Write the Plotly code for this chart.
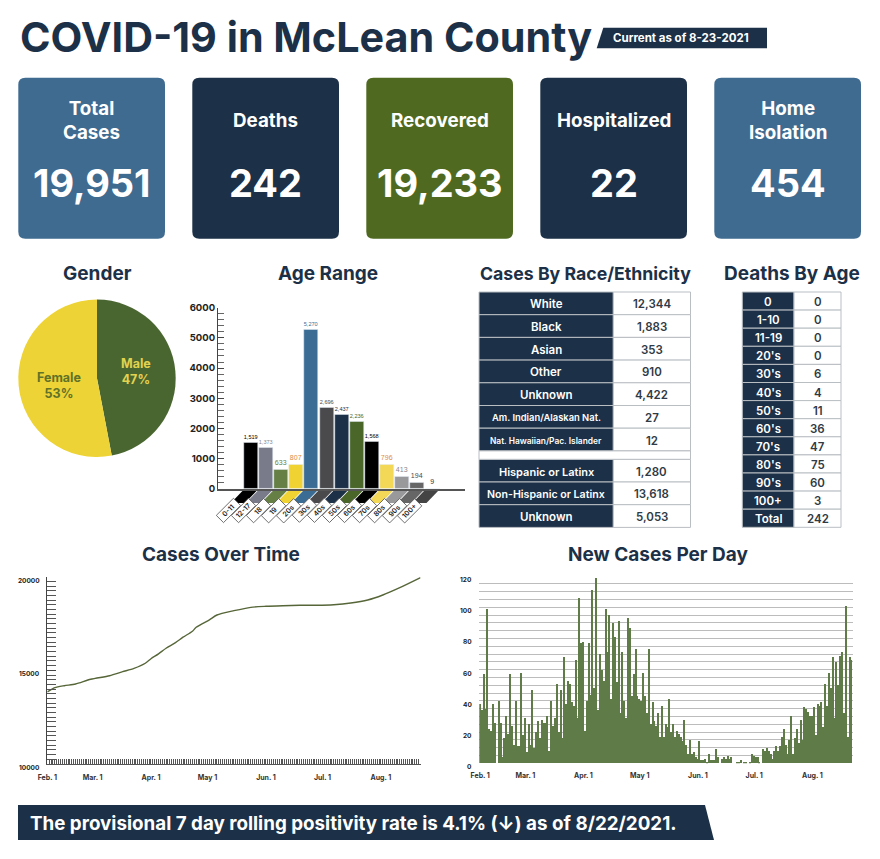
import pandas as pd
import plotly.graph_objects as go

NAVY = "#1c3047"; BLUE = "#3f6b90"; GREEN = "#4f6a20"; DARKG = "#4a6630"; YEL = "#edd335"
FONT = "Inter"

card_labels = ["Total<br>Cases", "Deaths", "Recovered", "Hospitalized", "Home<br>Isolation"]
card_values = ["19,951", "242", "19,233", "22", "454"]
card_colors = [BLUE, NAVY, GREEN, NAVY, BLUE]

gender_labels = ["Male", "Female"]
gender_values = [47, 53]

age_cats = ["0-11", "12-17", "18", "19", "20s", "30s", "40s", "50s", "60s", "70s", "80s", "90s", "100+"]
age_vals = [1519, 1373, 633, 807, 5270, 2696, 2437, 2236, 1568, 796, 413, 194, 9]
age_colors = ["#000000", "#797b8a", "#657f44", "#f0d332", "#3b6d94", "#4a4a4c", "#1c3047", "#4a6628",
              "#000000", "#f2d856", "#99999c", "#666666", "#444444"]
age_text_colors = ["#000000", "#85878f", "#657f44", "#e08a3c", "#3b6d94", "#4a4a4c", "#1c3047", "#4a6628",
                   "#000000", "#e08a3c", "#85878f", "#4a4a4c", "#333333"]

race_labels = ["White", "Black", "Asian", "Other", "Unknown", "Am. Indian/Alaskan Nat.", "Nat. Hawaiian/Pac. Islander"]
race_values = ["12,344", "1,883", "353", "910", "4,422", "27", "12"]
race_sizes = [11.5, 11.5, 11.5, 11.5, 11.5, 9.4, 8.4]
eth_labels = ["Hispanic or Latinx", "Non-Hispanic or Latinx", "Unknown"]
eth_values = ["1,280", "13,618", "5,053"]
eth_sizes = [11, 10.6, 11.5]
death_labels = ["0", "1-10", "11-19", "20's", "30's", "40's", "50's", "60's", "70's", "80's", "90's", "100+", "Total"]
death_values = ["0", "0", "0", "0", "6", "4", "11", "36", "47", "75", "60", "3", "242"]

cum_dates = ["2021-02-05", "2021-02-09", "2021-02-14", "2021-02-20", "2021-02-28", "2021-03-10", "2021-03-17",
             "2021-03-23", "2021-03-29", "2021-04-01", "2021-04-05", "2021-04-09", "2021-04-14", "2021-04-18",
             "2021-04-23", "2021-04-25", "2021-05-02", "2021-05-06", "2021-05-15", "2021-05-24", "2021-06-01",
             "2021-06-10", "2021-06-19", "2021-06-28", "2021-07-07", "2021-07-16", "2021-07-25", "2021-08-02",
             "2021-08-11", "2021-08-22"]
cum_values = [13844, 14074, 14181, 14271, 14522, 14714, 14928, 15109, 15380, 15620, 15880, 16180, 16480, 16770,
              17090, 17300, 17700, 17955, 18185, 18365, 18420, 18452, 18473, 18473, 18505, 18596, 18756, 19023,
              19413, 19951]

daily_values = [38, 34, 57, 35, 99, 22, 21, 38, 26, 0, 40, 26, 4, 16, 30, 19, 57, 24, 12, 40, 11, 11, 58, 18, 29, 7,
                25, 12, 47, 10, 20, 27, 16, 28, 26, 26, 30, 8, 40, 24, 29, 51, 20, 47, 16, 68, 38, 53, 51, 39, 37,
                66, 29, 106, 77, 78, 21, 40, 77, 44, 111, 48, 119, 34, 70, 60, 53, 99, 71, 95, 41, 90, 81, 52, 91,
                32, 71, 40, 29, 93, 87, 43, 57, 73, 43, 41, 40, 58, 43, 32, 73, 25, 39, 27, 24, 32, 17, 37, 17, 25,
                23, 41, 20, 25, 17, 21, 19, 17, 14, 28, 12, 6, 15, 6, 7, 4, 3, 14, 2, 2, 3, 1, 6, 2, 2, 2, 9, 4, 0,
                3, 4, 3, 5, 3, 4, 0, 0, 1, 1, 2, 0, 1, 1, 0, 1, 6, 5, 4, 4, 1, 0, 9, 8, 10, 8, 6, 3, 8, 11, 8, 11,
                17, 22, 12, 6, 15, 30, 6, 16, 22, 13, 28, 15, 36, 35, 33, 30, 30, 36, 18, 38, 37, 39, 23, 51, 37,
                58, 48, 68, 29, 65, 50, 69, 71, 32, 101, 17, 68, 66]
daily_dates = [d.strftime("%Y-%m-%d") for d in pd.date_range("2021-02-05", periods=len(daily_values))]
date_ticks = ["2021-02-05", "2021-03-01", "2021-04-01", "2021-05-01", "2021-06-01", "2021-07-01", "2021-08-01"]
date_labels = ["Feb. 1", "Mar. 1", "Apr. 1", "May 1", "Jun. 1", "Jul. 1", "Aug. 1"]
cases_y_labels = [10000, 15000, 20000]
daily_y_labels = [0, 20, 40, 60, 80, 100, 120]

W, H = 880, 859
def X(p): return p / W
def Y(p): return 1 - p / H
def dom_x(a, b): return [X(a), X(b)]
def dom_y(top, bot): return [Y(bot), Y(top)]

fig = go.Figure()
shapes, ann = [], []

def poly(pts, color, layer="below"):
    d = "M " + " L ".join(f"{X(x):.5f},{Y(y):.5f}" for x, y in pts) + " Z"
    shapes.append(dict(type="path", xref="paper", yref="paper", path=d, fillcolor=color,
                       line=dict(width=0), layer=layer))

def rrect(x0, y0, x1, y1, r, color):
    rx, ry = r / W, r / H
    a, b, c, e = X(x0), X(x1), Y(y0), Y(y1)
    d = (f"M {a+rx:.5f},{c:.5f} L {b-rx:.5f},{c:.5f} Q {b:.5f},{c:.5f} {b:.5f},{c-ry:.5f} "
         f"L {b:.5f},{e+ry:.5f} Q {b:.5f},{e:.5f} {b-rx:.5f},{e:.5f} L {a+rx:.5f},{e:.5f} "
         f"Q {a:.5f},{e:.5f} {a:.5f},{e+ry:.5f} L {a:.5f},{c-ry:.5f} Q {a:.5f},{c:.5f} {a+rx:.5f},{c:.5f} Z")
    shapes.append(dict(type="path", xref="paper", yref="paper", path=d, fillcolor=color,
                       line=dict(width=0), layer="below"))

def text(px, py, s, size, color=NAVY, weight=700, anchor="center", **kw):
    ann.append(dict(xref="paper", yref="paper", x=X(px), y=Y(py), text=s, showarrow=False,
                    xanchor=anchor, yanchor="middle", align="center",
                    font=dict(family=FONT, size=size, color=color, weight=weight), **kw))

# header
text(17.5, 37, "COVID-19 in McLean County", 41.3, anchor="left")
poly([(596.7, 48.3), (603.3, 27.7), (767, 27.7), (767, 48.3)], NAVY)
text(680.5, 38, "Current as of 8-23-2021", 11.5, "#ffffff")

# cards
for i, (lab, val, col) in enumerate(zip(card_labels, card_values, card_colors)):
    x0 = 18.3 + 174 * i
    rrect(x0, 77.7, x0 + 146.7, 238.7, 7, col)
    text(x0 + 73.3, 120, lab, 18.8, "#ffffff", 700)
    text(x0 + 73.3, 183.5, val, 38, "#ffffff", 700)

# headings
for px, py, s, sz in [(97.5, 274, "Gender", 19), (328, 274, "Age Range", 19), (585, 274, "Cases By Race/Ethnicity", 17.7),
                      (792, 274, "Deaths By Age", 19), (221, 554, "Cases Over Time", 19), (658, 554, "New Cases Per Day", 19)]:
    text(px, py, s, sz)

# footer
poly([(18, 805), (705, 805), (714, 840), (18, 840)], NAVY)
text(28, 823, "The provisional 7 day rolling positivity rate is 4.1% (↓) as of 8/22/2021.", 18.8, "#ffffff", 700, anchor="left")

# gender pie
fig.add_trace(go.Pie(labels=gender_labels, values=gender_values, sort=False, direction="clockwise", rotation=0,
                     domain=dict(x=dom_x(18.3, 175.7), y=dom_y(299.6, 457)),
                     marker=dict(colors=[DARKG, YEL]), textinfo="none", showlegend=False, hoverinfo="label+percent"))
for lab, val, px, py, col in zip(gender_labels, gender_values, [136, 59], [371, 386], ["#e2d24f", "#5f7228"]):
    text(px, py, f"{lab}<br>{val}%", 12.5, col, 700)

# age bars
AX0, AX1, BAR0, PITCH = 218.0, 465.0, 250.9, 15.13
fig.add_trace(go.Bar(x=age_cats, y=age_vals, xaxis="x", yaxis="y", marker=dict(color=age_colors),
                     width=0.93, text=[f"{v:,}" for v in age_vals], textposition="outside", cliponaxis=False,
                     textfont=dict(family="Liberation Sans", size=7, color=age_text_colors), showlegend=False))
for i, (cat, col) in enumerate(zip(age_cats, age_colors)):
    c = BAR0 + PITCH * i
    hw = PITCH * 0.465
    poly([(c - hw, 489.5), (c + hw, 489.5), (c + hw - 13, 503), (c - hw - 13, 503)], col)
    ann.append(dict(xref="paper", yref="paper", x=X(c - 22.5), y=Y(510.5), text=cat, showarrow=False, textangle=-45,
                    width=23, height=9, xanchor="center", yanchor="middle", bgcolor="#ffffff", bordercolor="#555555",
                    borderwidth=0.8, borderpad=0, font=dict(family=FONT, size=7, color="#222222", weight=600)))

# tables drawn as cells from the lists
def table(labels, values, sizes, x0, xm, x1, y0, rowh, vsize=11.5):
    for i, (lab, val, sz) in enumerate(zip(labels, values, sizes)):
        top, bot = y0 + rowh * i, y0 + rowh * (i + 1)
        for a, b, col in [(x0, xm, NAVY), (xm, x1, "#ffffff")]:
            shapes.append(dict(type="rect", xref="paper", yref="paper", x0=X(a), x1=X(b), y0=Y(bot), y1=Y(top),
                               fillcolor=col, line=dict(color="#b9bec3", width=1), layer="below"))
        text((x0 + xm) / 2, (top + bot) / 2 + 1, lab, sz, "#ffffff", 600)
        text((xm + x1) / 2, (top + bot) / 2 + 1, val, vsize, "#2f3a45", 600)

table(race_labels, race_values, race_sizes, 479, 613.3, 690.5, 292, 22.7)
table(eth_labels, eth_values, eth_sizes, 479, 613.3, 690.5, 459.3, 22.7)
shapes.append(dict(type="rect", xref="paper", yref="paper", x0=X(479), x1=X(690.5), y0=Y(459.3), y1=Y(450.9),
                   fillcolor="#ffffff", line=dict(color="#b9bec3", width=1), layer="below"))
table(death_labels, death_values, [11.5] * len(death_labels), 742.3, 794, 841, 292, 18.1)

# cases over time
fig.add_trace(go.Scatter(x=cum_dates, y=cum_values, mode="lines", xaxis="x2", yaxis="y2",
                         line=dict(color="#566638", width=1.4, shape="spline", smoothing=0.7), showlegend=False))
for v in cases_y_labels:
    ann.append(dict(xref="paper", yref="y2", x=X(42), y=v, yshift=-4, text=str(v), showarrow=False, xanchor="right",
                    font=dict(family=FONT, size=6.5, color="#222222", weight=700)))
for v in daily_y_labels:
    ann.append(dict(xref="paper", yref="y3", x=X(473.5), y=v, yshift=-4, text=str(v), showarrow=False, xanchor="right",
                    font=dict(family=FONT, size=6.5, color="#222222", weight=700)))

# new cases per day
fig.add_trace(go.Bar(x=daily_dates, y=daily_values, xaxis="x3", yaxis="y3", marker=dict(color="#5f7c48", line=dict(width=0)),
                     width=86400000 * 0.6, showlegend=False))

date_font = dict(family=FONT, size=7, color="#333333", weight=700)
fig.update_layout(
    width=W, height=H, margin=dict(l=0, r=0, t=0, b=0, autoexpand=False), paper_bgcolor="#ffffff", plot_bgcolor="rgba(0,0,0,0)",
    shapes=shapes, annotations=ann, showlegend=False, bargap=0,
    xaxis=dict(domain=dom_x(AX0, AX1), anchor="y", range=[-(BAR0 - AX0) / PITCH, (AX1 - BAR0) / PITCH], type="category",
               showticklabels=False, ticks="", showline=True, linecolor="#555555", linewidth=1.5, showgrid=False),
    yaxis=dict(domain=dom_y(307.7, 488.7), anchor="x", range=[0, 6000], tickvals=[0, 1000, 2000, 3000, 4000, 5000, 6000],
               ticks="inside", ticklen=6, tickwidth=1.2, tickcolor="#444444", showline=True, linecolor="#444444", linewidth=1,
               showgrid=False, zeroline=False, tickfont=dict(family=FONT, size=9.5, color="#222222", weight=700),
               minor=dict(dtick=200, tick0=0, ticks="inside", ticklen=6, tickwidth=0.8, tickcolor="#666666")),
    xaxis2=dict(domain=dom_x(47.3, 420.5), anchor="y2", type="date", range=["2021-02-05", "2021-08-22"],
                tickvals=date_ticks, ticktext=date_labels, ticks="inside", ticklen=5, tickcolor="#555555", tickwidth=1,
                ticklabelstandoff=7, tickfont=date_font, showline=True, linecolor="#555555", linewidth=1, showgrid=False,
                minor=dict(dtick=86400000, ticks="inside", ticklen=5, tickwidth=1.1, tickcolor="#555555")),
    yaxis2=dict(domain=dom_y(576.7, 764), anchor="x2", range=[10000, 20000], tickvals=cases_y_labels, showticklabels=False,
                ticks="inside", ticklen=9, tickwidth=1.3, tickcolor="#444444", showline=True, linecolor="#444444", linewidth=1,
                showgrid=False, zeroline=False,
                minor=dict(dtick=250, tick0=10000, ticks="inside", ticklen=9, tickwidth=1.1, tickcolor="#555555")),
    xaxis3=dict(domain=dom_x(479.3, 852.7), anchor="y3", type="date", range=["2021-02-04 12:00", "2021-08-22 12:00"],
                tickvals=date_ticks, ticktext=date_labels, ticks="", ticklabelstandoff=7, tickfont=date_font,
                showline=False, showgrid=False),
    yaxis3=dict(domain=dom_y(576, 763.3), anchor="x3", range=[0, 120], dtick=5, showticklabels=False, ticks="",
                gridcolor="#bcbcbc", gridwidth=1.4, zeroline=False, showline=False),
)
fig.write_html("out.html", config=dict(displayModeBar=False),
               post_script="document.body.style.margin='0';document.documentElement.style.overflow='hidden';")
